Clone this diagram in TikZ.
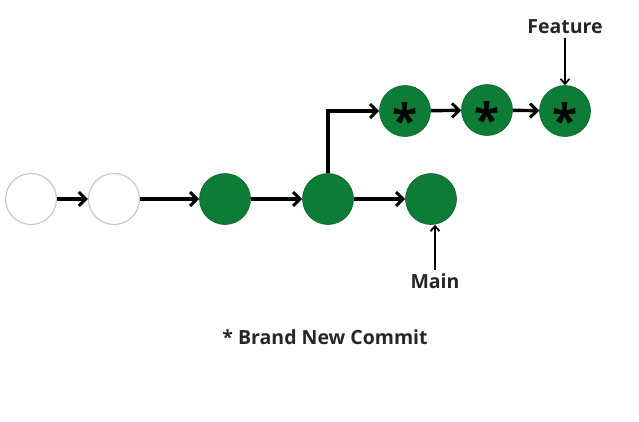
\documentclass[tikz,border=0pt]{standalone}
\usepackage{fontspec}
\setmainfont{Open Sans}
\usetikzlibrary{arrows.meta}
\definecolor{gitgreen}{RGB}{12,124,54}
\definecolor{ringgray}{RGB}{200,200,200}
\tikzset{
  empty/.style={circle,draw=ringgray,line width=1.2pt,fill=white,minimum size=51pt,inner sep=0pt},
  commit/.style={circle,draw=gitgreen!80!black,line width=0.6pt,fill=gitgreen,minimum size=51pt,inner sep=0pt},
  star/.style={font=\bfseries\fontsize{46}{46}\selectfont,inner sep=0pt},
  arr/.style={line width=3.4pt,-{Straight Barb[length=7pt,width=14pt,line width=3pt]}},
  thin/.style={line width=2pt,-{Straight Barb[length=5pt,width=9pt,line width=1.8pt]}},
  lbl/.style={font=\bfseries\fontsize{19.5}{19.5}\selectfont,text=black!85}
}
\begin{document}
\begin{tikzpicture}[x=1pt,y=-1pt]
\useasboundingbox (0,0) rectangle (639,421);
\node[empty] (c1) at (31,199) {};
\node[empty] (c2) at (114,199) {};
\node[commit] (c3) at (225,199) {};
\node[commit] (c4) at (328,199) {};
\node[commit] (c5) at (431,199) {};
\node[commit] (s1) at (405,111) {};
\node[commit] (s2) at (487,110) {};
\node[commit] (s3) at (565,111) {};
\node[star] at (405,120) {*};
\node[star] at (487,119) {*};
\node[star] at (565,120) {*};
\node[lbl] (feat) at (565,27) {Feature};
\node[lbl] (main) at (435,281) {Main};
\node[lbl] (note) at (325,337) {* Brand New Commit};
\draw[arr] (c1) -- (c2);
\draw[arr] (c2) -- (c3);
\draw[arr] (c3) -- (c4);
\draw[arr] (c4) -- (c5);
\draw[arr] (c4.north) |- (s1.west);
\draw[arr] (s1) -- (s2);
\draw[arr] (s2) -- (s3);
\draw[thin] (feat.south) -- (s3.north);
\draw[thin] (main.north) -- (main.north |- c5.south);
\end{tikzpicture}
\end{document}
